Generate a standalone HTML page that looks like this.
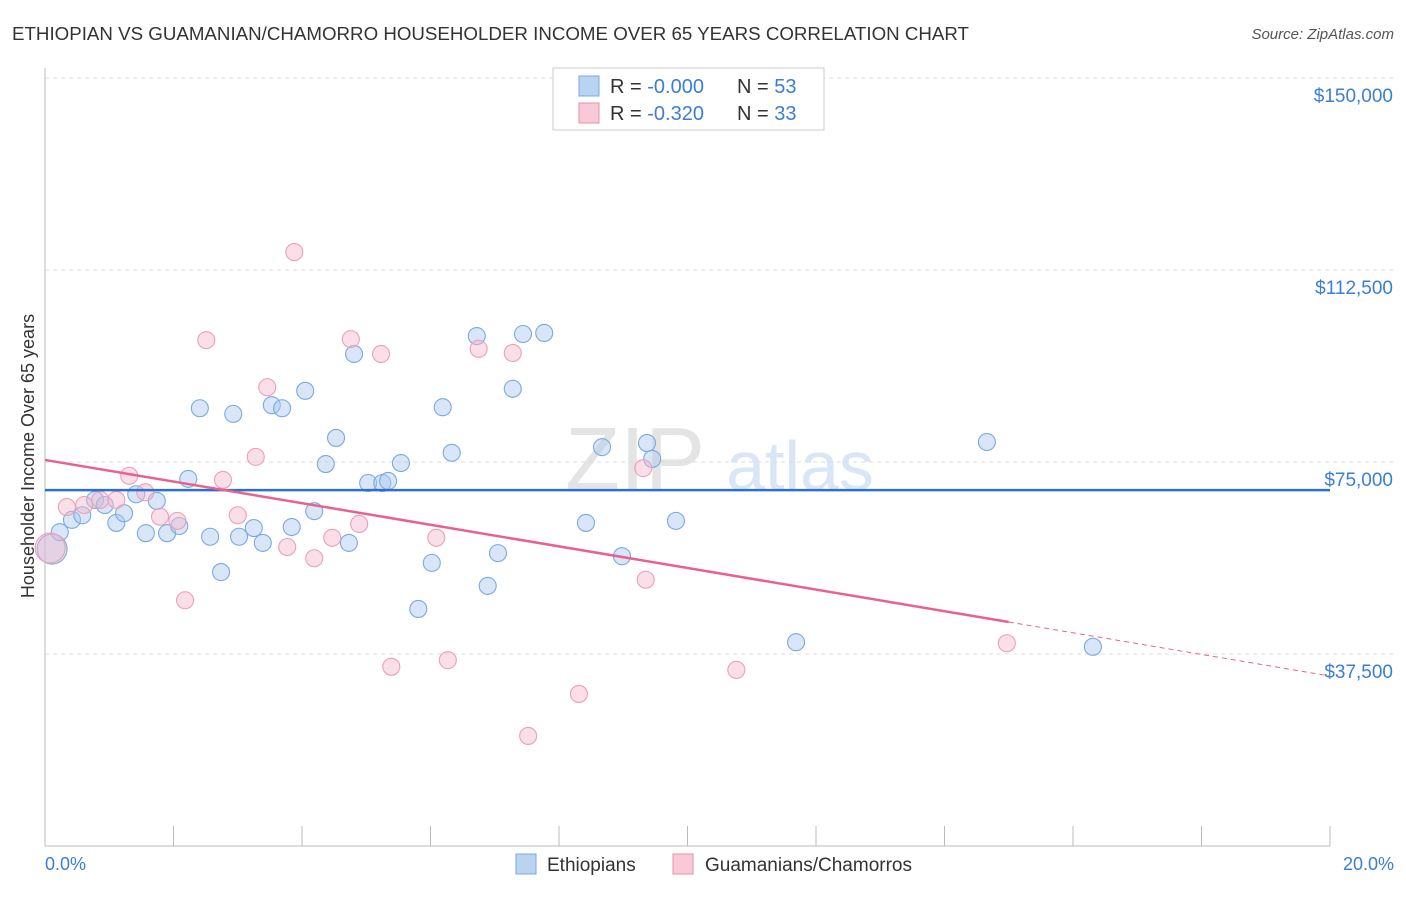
<!DOCTYPE html>
<html><head><meta charset="utf-8"><style>
body{margin:0;background:#fff;font-family:"Liberation Sans",sans-serif;}
svg text{font-family:"Liberation Sans",sans-serif;}
</style></head><body>
<svg id="c" width="1406" height="892" xmlns="http://www.w3.org/2000/svg">
<text x="12" y="40" font-size="18" fill="#333" textLength="957" lengthAdjust="spacingAndGlyphs">ETHIOPIAN VS GUAMANIAN/CHAMORRO HOUSEHOLDER INCOME OVER 65 YEARS CORRELATION CHART</text>
<text x="1394" y="39" font-size="15" fill="#555" font-style="italic" text-anchor="end">Source: ZipAtlas.com</text>
<text x="0" y="0" transform="translate(34,456) rotate(-90)" font-size="18" fill="#333" text-anchor="middle">Householder Income Over 65 years</text>
<text x="635" y="490" font-size="90" fill="#e4e4e4" font-family="Liberation Serif" text-anchor="middle">ZIP</text>
<text x="800" y="490" font-size="70" fill="#d8e6f5" text-anchor="middle">atlas</text>
<g id="grid"></g><g id="axes"></g><g id="pts"></g><g id="lines"></g>
<g>
<rect x="553" y="68" width="271" height="62" fill="#fff" stroke="#ccc"/>
<rect x="579" y="76" width="20" height="20" fill="#b9d3f3" stroke="#7aaae0"/>
<rect x="579" y="103" width="20" height="20" fill="#f9c9d8" stroke="#e88fab"/>
<text x="610" y="93" font-size="20" fill="#333">R = <tspan fill="#3b7dd8">-0.000</tspan></text>
<text x="737" y="93" font-size="20" fill="#333">N = <tspan fill="#3b7dd8">53</tspan></text>
<text x="610" y="120" font-size="20" fill="#333">R =  <tspan fill="#3b7dd8">-0.320</tspan></text>
<text x="737" y="120" font-size="20" fill="#333">N = <tspan fill="#3b7dd8">33</tspan></text>
</g>
<g>
<rect x="516" y="854" width="20" height="20" fill="#b9d3f3" stroke="#7aaae0"/>
<text x="547" y="871" font-size="19" fill="#333">Ethiopians</text>
<rect x="673" y="854" width="20" height="20" fill="#f9c9d8" stroke="#e88fab"/>
<text x="705" y="871" font-size="19" fill="#333">Guamanians/Chamorros</text>
</g>
<text x="45" y="870" font-size="18" fill="#3b7dd8">0.0%</text>
<text x="1394" y="870" font-size="18" fill="#3b7dd8" text-anchor="end">20.0%</text>
</svg>
<script>
const yTicks=[37500,75000,112500,150000];
const yTickLabels=["$37,500","$75,000","$112,500","$150,000"];
const xTicks=[0,2,4,6,8,10,12,14,16,18,20];
const blueX=[0.11,0.23,0.42,0.58,0.78,0.93,1.11,1.23,1.42,1.57,1.74,1.90,2.09,2.23,2.41,2.57,2.74,2.93,3.02,3.25,3.39,3.53,3.69,3.84,4.05,4.19,4.37,4.53,4.73,4.81,5.03,5.25,5.34,5.54,5.81,6.02,6.19,6.33,6.72,6.89,7.05,7.28,7.44,7.77,8.42,8.67,8.98,9.37,9.45,9.82,11.69,14.66,16.31];
const blueY=[58.0,61.3,63.7,64.6,67.6,66.6,63.1,65.0,68.7,61.1,67.4,61.1,62.5,71.7,85.5,60.4,53.5,84.4,60.4,62.1,59.2,86.1,85.5,62.3,88.9,65.4,74.6,79.7,59.2,96.1,70.9,70.9,71.3,74.8,46.3,55.3,85.7,76.8,99.6,50.8,57.2,89.3,100.0,100.2,63.1,77.9,56.6,78.7,75.6,63.5,39.8,78.9,38.9];
const pinkX=[0.08,0.34,0.61,0.86,1.11,1.31,1.56,1.79,2.06,2.18,2.51,2.77,3.00,3.28,3.46,3.77,3.88,4.19,4.47,4.76,4.89,5.23,5.39,6.09,6.27,6.75,7.28,7.52,8.31,9.31,9.35,10.76,14.97];
const pinkY=[58.2,66.2,66.6,67.6,67.6,72.3,69.1,64.3,63.5,48.0,98.8,71.5,64.6,76.0,89.6,58.4,116.0,56.2,60.2,99.0,62.9,96.1,35.0,60.2,36.3,97.1,96.3,21.5,29.7,73.8,52.0,34.4,39.6];
const blueTrend=[69.5,0];
const pinkTrend=[75.4,-2.11];
const pinkSolidEnd=15.0;

const NS="http://www.w3.org/2000/svg";
const X=p=>45+p*64.25;
const Y=v=>846-v/37.5*192;
function mk(tag,attrs,parent){const e=document.createElementNS(NS,tag);for(const k in attrs)e.setAttribute(k,attrs[k]);document.getElementById(parent).appendChild(e);return e;}
yTicks.forEach((t,i)=>{
 const l=mk('line',{x1:45,x2:1393,y1:Y(t/1000),y2:Y(t/1000),stroke:'#ddd','stroke-dasharray':'4,4'},'grid');
 
 
 const tx=mk('text',{x:1393,y:Y(t/1000)+24,'font-size':19,fill:'#3b7dd8','text-anchor':'end'},'grid');
 tx.textContent=yTickLabels[i];
 
 
});
const ax=mk('line',{x1:45,x2:45,y1:68,y2:846,stroke:'#bbb'},'axes');


const bx=mk('line',{x1:45,x2:1330,y1:846,y2:846,stroke:'#bbb'},'axes');


xTicks.forEach(t=>{
 const l=mk('line',{x1:X(t),x2:X(t),y1:826,y2:846,stroke:'#bbb'},'axes');
 
 
});
function pts(xs,ys,fill,stroke,name){
 xs.forEach((x,i)=>{
  const c=mk('circle',{cx:X(x),cy:Y(ys[i]),r:i==0?15:8.5,fill:fill,'fill-opacity':0.45,stroke:stroke,'stroke-width':1.1},'pts');
  
  
 });
}
pts(blueX,blueY,'#a9c8f0','#7aaae0','ethiopian-point');
pts(pinkX,pinkY,'#f5b8cb','#eba0b8','guamanian-point');
const bl=mk('line',{x1:X(0),x2:X(20),y1:Y(blueTrend[0]),y2:Y(blueTrend[0]+blueTrend[1]*20),stroke:'#2d6fcf','stroke-width':2.5},'lines');


const pv=x=>pinkTrend[0]+pinkTrend[1]*x;
const pl=mk('line',{x1:X(0),x2:X(pinkSolidEnd),y1:Y(pv(0)),y2:Y(pv(pinkSolidEnd)),stroke:'#e8628e','stroke-width':2.5},'lines');


const pd=mk('line',{x1:X(pinkSolidEnd),x2:X(20),y1:Y(pv(pinkSolidEnd)),y2:Y(pv(20)),stroke:'#e8628e','stroke-width':1,'stroke-dasharray':'5,4'},'lines');


</script>
</body></html>
